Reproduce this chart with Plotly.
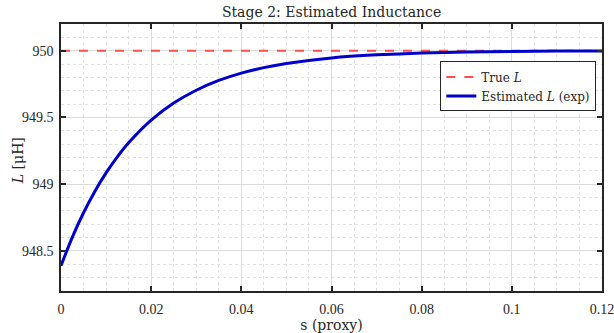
import plotly.graph_objects as go

# Data
s_vals = [0, 0.0025, 0.005, 0.0075, 0.01, 0.0125, 0.015, 0.02, 0.025, 0.03, 0.035,
          0.04, 0.045, 0.05, 0.06, 0.07, 0.08, 0.09, 0.10, 0.11, 0.12]
L_est = [948.39, 948.602, 948.786, 948.946, 949.085, 949.205, 949.31, 949.48, 949.608,
         949.704, 949.777, 949.832, 949.873, 949.904, 949.946, 949.969, 949.982,
         949.990, 949.994, 949.997, 949.998]
L_true = 950.0
x_ticks = [0, 0.02, 0.04, 0.06, 0.08, 0.1, 0.12]
x_tick_labels = ["0", "0.02", "0.04", "0.06", "0.08", "0.1", "0.12"]
y_ticks = [948.5, 949, 949.5, 950]
y_tick_labels = ["948.5", "949", "949.5", "950"]

FONT = "DejaVu Serif"
TICKFONT = "Times New Roman, Liberation Serif, Tinos, DejaVu Serif"

fig = go.Figure()
fig.add_trace(go.Scatter(
    x=[s_vals[0], s_vals[-1]], y=[L_true, L_true], mode="lines",
    name="True <i>L</i>",
    line=dict(color="rgb(255,77,77)", width=2, dash="dash"),
))
fig.add_trace(go.Scatter(
    x=s_vals, y=L_est, mode="lines", name="Estimated <i>L</i> (exp)",
    line=dict(color="rgb(0,0,205)", width=3, shape="spline", smoothing=0.6),
))

axis_common = dict(
    showline=True, linecolor="#262626", linewidth=1.5, mirror="ticks",
    ticks="inside", ticklen=5, tickwidth=1.5, tickcolor="#262626",
    showgrid=True, gridcolor="#DCDCDC", gridwidth=1, zeroline=False,
    automargin=False, ticklabeloverflow="allow",
    tickfont=dict(family=TICKFONT, size=14, color="#262626"),
)

fig.update_xaxes(
    range=[0, 0.1200001], tickvals=x_ticks, ticktext=x_tick_labels,
    ticklabelstandoff=4,
    title=dict(text="s (proxy)", font=dict(family=FONT, size=14, color="#262626"), standoff=2),
    minor=dict(dtick=0.005, tick0=0, showgrid=True, gridcolor="#E2E2E2", griddash="dot", gridwidth=1, ticks=""),
    **axis_common,
)
fig.update_yaxes(
    range=[948.2, 950.2], tickvals=y_ticks, ticktext=y_tick_labels,
    ticklabelstandoff=3,
    minor=dict(dtick=0.1, tick0=948.2, showgrid=True, gridcolor="#E2E2E2", griddash="dot", gridwidth=1, ticks=""),
    **axis_common,
)

fig.add_annotation(
    text="<i>L</i> [μH]", xref="paper", yref="paper", x=-0.0795, y=0.49,
    xanchor="center", yanchor="middle", textangle=-90, showarrow=False,
    font=dict(family=FONT, size=14, color="#262626"),
)

fig.update_layout(
    width=614, height=333,
    margin=dict(l=61, r=12, t=24, b=42),
    paper_bgcolor="white", plot_bgcolor="white",
    title=dict(text="Stage 2: Estimated Inductance", x=0.54, xanchor="center", y=0.965, yanchor="middle",
               font=dict(family=FONT, size=14, color="#262626")),
    legend=dict(x=0.9895, y=0.86, xanchor="right", yanchor="top",
                bgcolor="white", bordercolor="#262626", borderwidth=1,
                font=dict(family=FONT, size=12, color="#262626"),
                tracegroupgap=0, itemwidth=30),
    showlegend=True,
)

fig.write_html("out.html")
